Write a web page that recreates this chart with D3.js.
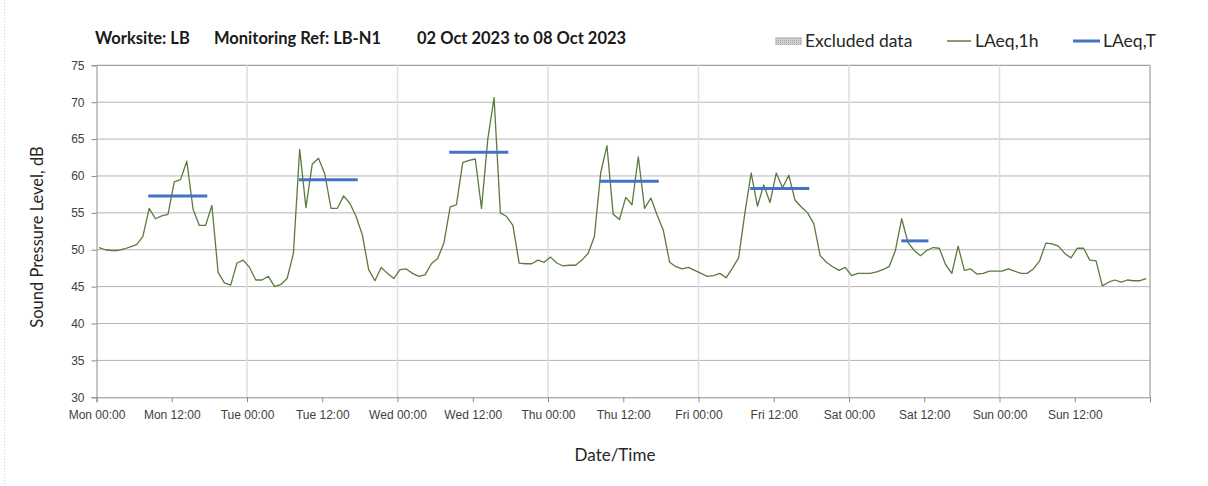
<!DOCTYPE html>
<html>
<head>
<meta charset="utf-8">
<script src="https://cdn.jsdelivr.net/npm/d3@7"></script>
<style>
  body { margin: 0; background: #fff; }
  svg { font-family: Lato, "Open Sans", sans-serif; }
</style>
</head>
<body>
<svg id="chart"></svg>
<script>
// hourly LAeq,1h values, one array per day (00:00 .. 23:00)
var monValues = [50.3,50.0,49.9,49.9,50.1,50.4,50.7,51.8,55.6,54.2,54.6,54.8,59.2,59.5,62.0,55.5,53.3,53.3,56.0,46.9,45.5,45.2,48.2,48.6];
var tueValues = [47.6,45.9,45.9,46.4,45.0,45.3,46.1,49.5,63.6,55.7,61.6,62.4,60.3,55.6,55.6,57.3,56.3,54.5,52.0,47.3,45.8,47.6,46.8,46.1];
var wedValues = [47.3,47.4,46.8,46.4,46.6,48.1,48.8,50.9,55.8,56.1,61.8,62.1,62.3,55.6,65.0,70.6,55.0,54.5,53.3,48.2,48.1,48.1,48.6,48.3];
var thuValues = [49.0,48.2,47.8,47.9,47.9,48.6,49.5,51.8,60.4,64.1,54.8,54.1,57.1,56.1,62.6,55.6,57.0,54.7,52.6,48.3,47.7,47.4,47.6,47.2];
var friValues = [46.8,46.4,46.5,46.8,46.2,47.5,48.9,55.0,60.4,55.9,58.8,56.4,60.4,58.4,60.1,56.7,55.8,55.0,53.5,49.2,48.3,47.7,47.2,47.6];
var satValues = [46.5,46.8,46.8,46.8,47.0,47.3,47.7,49.9,54.2,51.0,49.9,49.2,49.9,50.3,50.2,48.0,46.8,50.5,47.2,47.4,46.7,46.8,47.1,47.1];
var sunValues = [47.1,47.4,47.1,46.8,46.8,47.4,48.5,50.9,50.8,50.5,49.5,48.9,50.2,50.2,48.6,48.5,45.1,45.6,45.9,45.6,45.9,45.8,45.8,46.1];

// LAeq,T over the working period of each day
var periodStarts = ["2023-10-02 08:15","2023-10-03 08:15","2023-10-04 08:15","2023-10-05 08:15","2023-10-06 08:15","2023-10-07 08:20"];
var periodEnds   = ["2023-10-02 17:40","2023-10-03 17:40","2023-10-04 17:40","2023-10-05 17:40","2023-10-06 17:40","2023-10-07 12:40"];
var periodValues = [57.3, 59.5, 63.2, 59.3, 58.3, 51.2];

var yTicks = [30,35,40,45,50,55,60,65,70,75];
var startDate = "2023-10-02 00:00";
var endDate = "2023-10-09 00:00";
var sampleOffsetMin = 24;   // samples sit a little after the hour

var titleParts = ["Worksite: LB", "Monitoring Ref: LB-N1", "02 Oct 2023 to 08 Oct 2023"];

var parseTime = d3.timeParse("%Y-%m-%d %H:%M");

var width = 1208, height = 486;
var margin = {left: 96.5, right: 58, top: 65.3, bottom: 88.7};
var plotW = width - margin.left - margin.right;
var plotH = height - margin.top - margin.bottom;

var svg = d3.select("#chart").attr("width", width).attr("height", height);

var t0 = parseTime(startDate);
var hourly = [].concat(monValues, tueValues, wedValues, thuValues, friValues, satValues, sunValues)
  .map(function(v, i){
    return {time: d3.timeMinute.offset(t0, i * 60 + sampleOffsetMin), value: v};
  });

var periods = periodValues.map(function(v, i){
  return {start: parseTime(periodStarts[i]), end: parseTime(periodEnds[i]), value: v};
});

var x = d3.scaleTime()
  .domain([t0, parseTime(endDate)])
  .range([0, plotW]);

var y = d3.scaleLinear()
  .domain([30, 75])
  .range([plotH, 0]);

// outer chart border (only the left edge shows)
svg.append("line")
  .attr("x1", 4.5).attr("x2", 4.5).attr("y1", 0).attr("y2", height)
  .attr("stroke", "#d0d0d0").attr("stroke-dasharray", "1,2");

var g = svg.append("g")
  .attr("transform", "translate(" + margin.left + "," + margin.top + ")");

// horizontal gridlines
g.selectAll(".hgrid")
  .data(yTicks.slice(1))
  .enter().append("line")
    .attr("class", "hgrid")
    .attr("x1", 0).attr("x2", plotW)
    .attr("y1", function(d){ return y(d); })
    .attr("y2", function(d){ return y(d); })
    .attr("stroke", function(d){ return d == 75 ? "#8c8c8c" : "#b4b4b4"; })
    .attr("stroke-width", 1);

// vertical day gridlines
var days = d3.timeDay.range(d3.timeDay.offset(t0, 1), parseTime(endDate));
g.selectAll(".vgrid")
  .data(days)
  .enter().append("line")
    .attr("class", "vgrid")
    .attr("x1", function(d){ return x(d); })
    .attr("x2", function(d){ return x(d); })
    .attr("y1", 0).attr("y2", plotH)
    .attr("stroke", "#dedede").attr("stroke-width", 1.5);

// right border
g.append("line")
  .attr("x1", plotW).attr("x2", plotW).attr("y1", 0).attr("y2", plotH)
  .attr("stroke", "#8c8c8c");

// axes
var yAxis = d3.axisLeft(y).tickValues(yTicks).tickSize(5).tickPadding(7);
var xAxis = d3.axisBottom(x)
  .ticks(d3.timeHour.every(12))
  .tickFormat(d3.timeFormat("%a %H:%M"))
  .tickSize(5).tickPadding(8);

var yg = g.append("g").call(yAxis);
var xg = g.append("g").attr("transform", "translate(0," + plotH + ")").call(xAxis);

[yg, xg].forEach(function(ax){
  ax.select(".domain").attr("stroke", "#8c8c8c");
  ax.selectAll(".tick line").attr("stroke", "#8c8c8c");
  ax.selectAll(".tick text")
    .attr("fill", "#404040")
    .style("font-size", "12px");
});
// last x tick label (Mon 00:00 of next week) is not shown
xg.selectAll(".tick text").filter(function(d){ return +d == +parseTime(endDate); }).remove();

// LAeq,1h line
var line = d3.line()
  .x(function(d){ return x(d.time); })
  .y(function(d){ return y(d.value); });

g.append("path")
  .datum(hourly)
  .attr("fill", "none")
  .attr("stroke", "#5b7a3c")
  .attr("stroke-width", 1.3)
  .attr("stroke-linejoin", "round")
  .attr("d", line);

// LAeq,T segments
g.selectAll(".period")
  .data(periods)
  .enter().append("line")
    .attr("class", "period")
    .attr("x1", function(d){ return x(d.start); })
    .attr("x2", function(d){ return x(d.end); })
    .attr("y1", function(d){ return y(d.value); })
    .attr("y2", function(d){ return y(d.value); })
    .attr("stroke", "#4472c4")
    .attr("stroke-width", 3);

// axis titles
svg.append("text")
  .attr("transform", "translate(43,237) rotate(-90)")
  .attr("text-anchor", "middle")
  .attr("fill", "#262626")
  .style("font-size", "16.5px")
  .text("Sound Pressure Level, dB");

svg.append("text")
  .attr("x", 615)
  .attr("y", 461)
  .attr("text-anchor", "middle")
  .attr("fill", "#262626")
  .style("font-size", "17px")
  .text("Date/Time");

// title, three parts
svg.append("g")
  .selectAll("text")
  .data(titleParts)
  .enter().append("text")
    .attr("x", function(d, i){ return [95, 214, 417][i]; })
    .attr("y", 44)
    .attr("fill", "#1a1a1a")
    .style("font-size", "16.5px")
    .style("font-weight", "bold")
    .text(function(d){ return d; });

// legend
var defs = svg.append("defs");
var pat = defs.append("pattern")
  .attr("id", "hatch").attr("width", 2).attr("height", 2)
  .attr("patternUnits", "userSpaceOnUse");
pat.append("rect").attr("width", 2).attr("height", 2).attr("fill", "#d0d0d0");
pat.append("rect").attr("width", 1).attr("height", 1).attr("fill", "#a8a8a8");

var legend = svg.append("g").style("font-size", "17.5px").attr("fill", "#262626");
legend.append("rect")
  .attr("x", 775).attr("y", 37).attr("width", 27).attr("height", 8)
  .attr("fill", "url(#hatch)");
legend.append("text").attr("x", 805).attr("y", 47).text("Excluded data");

legend.append("line")
  .attr("x1", 947).attr("x2", 971).attr("y1", 41).attr("y2", 41)
  .attr("stroke", "#4f6228").attr("stroke-width", 1.3);
legend.append("text").attr("x", 975).attr("y", 47).text("LAeq,1h");

legend.append("line")
  .attr("x1", 1073).attr("x2", 1100).attr("y1", 41).attr("y2", 41)
  .attr("stroke", "#4472c4").attr("stroke-width", 3);
legend.append("text").attr("x", 1103).attr("y", 47).text("LAeq,T");
</script>
</body>
</html>
